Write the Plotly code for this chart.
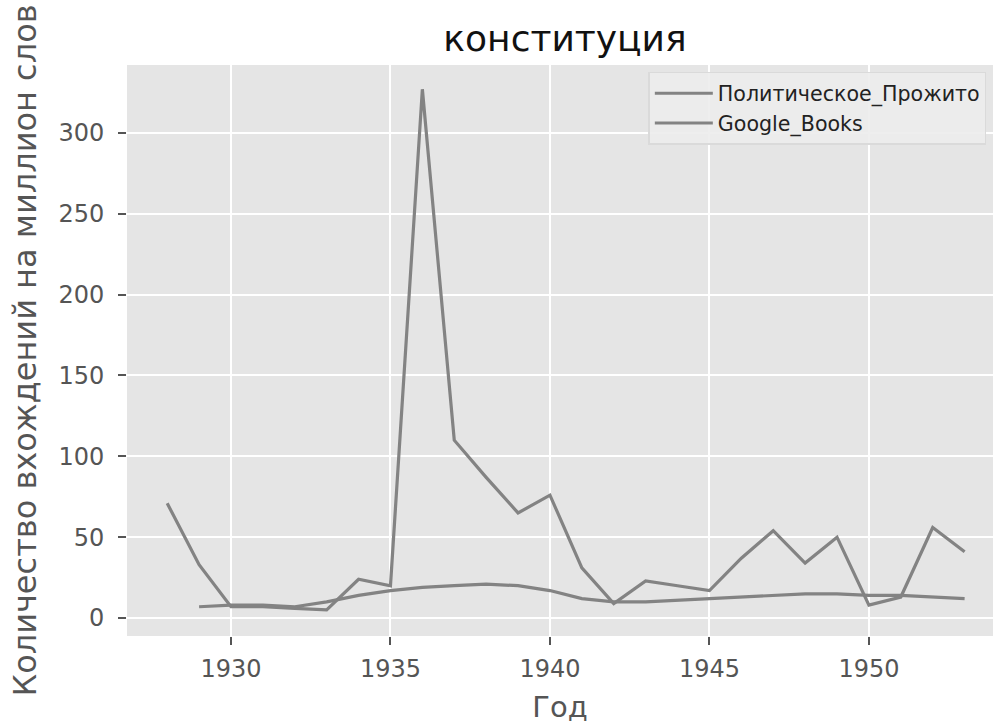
import plotly.graph_objects as go

# Частота слова "конституция" по годам
years_prozhito = [1928, 1929, 1930, 1931, 1932, 1933, 1934, 1935, 1936, 1937,
                  1938, 1939, 1940, 1941, 1942, 1943, 1944, 1945, 1946, 1947,
                  1948, 1949, 1950, 1951, 1952, 1953]
freq_prozhito = [71, 33, 7, 7, 6, 5, 24, 20, 327, 110,
                 87, 65, 76, 31, 9, 23, 20, 17, 37, 54,
                 34, 50, 8, 13, 56, 41]

years_google = [1929, 1930, 1931, 1932, 1933, 1934, 1935, 1936, 1937, 1938,
                1939, 1940, 1941, 1942, 1943, 1944, 1945, 1946, 1947, 1948,
                1949, 1950, 1951, 1952, 1953]
freq_google = [7, 8, 8, 7, 10, 14, 17, 19, 20, 21,
               20, 17, 12, 10, 10, 11, 12, 13, 14, 15,
               15, 14, 14, 13, 12]

x_ticks = [1930, 1935, 1940, 1945, 1950]
y_ticks = [0, 50, 100, 150, 200, 250, 300]

FONT = 'DejaVu Sans'
LINE_COLOR = '#838383'

fig = go.Figure()
fig.add_trace(go.Scatter(x=years_prozhito, y=freq_prozhito, mode='lines',
                         name='Политическое_Прожито',
                         line=dict(color=LINE_COLOR, width=3.2)))
fig.add_trace(go.Scatter(x=years_google, y=freq_google, mode='lines',
                         name='Google_Books',
                         line=dict(color=LINE_COLOR, width=3.2)))

fig.update_layout(
    width=993, height=724,
    margin=dict(l=127, r=0, t=65, b=88, autoexpand=False),
    paper_bgcolor='white',
    plot_bgcolor='#E5E5E5',
    font=dict(family=FONT, color='#555555'),
    title=dict(text='конституция', xref='container', x=565 / 993, xanchor='center',
               y=1 - 38 / 724, yanchor='middle', automargin=False,
               font=dict(family=FONT, size=36, color='#111111')),
    legend=dict(x=0.602, y=0.988, xanchor='left', yanchor='top',
                bgcolor='rgba(236,236,236,0.9)', bordercolor='#DADADA', borderwidth=1.5,
                font=dict(family=FONT, size=20.6, color='#222222'),
                itemwidth=58, tracegroupgap=0),
    showlegend=True,
)

fig.update_xaxes(
    range=[1926.74, 1953.89],
    tickvals=x_ticks,
    ticks='outside', ticklen=8, tickwidth=1.5, tickcolor='#555555',
    ticklabelstandoff=3,
    tickfont=dict(family=FONT, size=24, color='#555555'),
    showgrid=True, gridcolor='white', gridwidth=1.5,
    zeroline=False, showline=False, automargin=False,
    title=dict(text='Год', standoff=17, font=dict(family=FONT, size=29, color='#555555')),
)
fig.update_yaxes(
    range=[-11.1, 342],
    tickvals=y_ticks,
    ticks='outside', ticklen=8, tickwidth=1.5, tickcolor='#555555',
    ticklabelstandoff=9,
    tickfont=dict(family=FONT, size=24, color='#555555'),
    showgrid=True, gridcolor='white', gridwidth=1.5,
    zeroline=False, showline=False, automargin=False,
    title=dict(text='Количество вхождений на миллион слов', standoff=12,
               font=dict(family=FONT, size=32, color='#555555')),
)

# убрать отступ body, чтобы график занимал окно целиком
fig.write_html("out.html", config={'displayModeBar': False},
               post_script="document.body.style.margin='0px';")
